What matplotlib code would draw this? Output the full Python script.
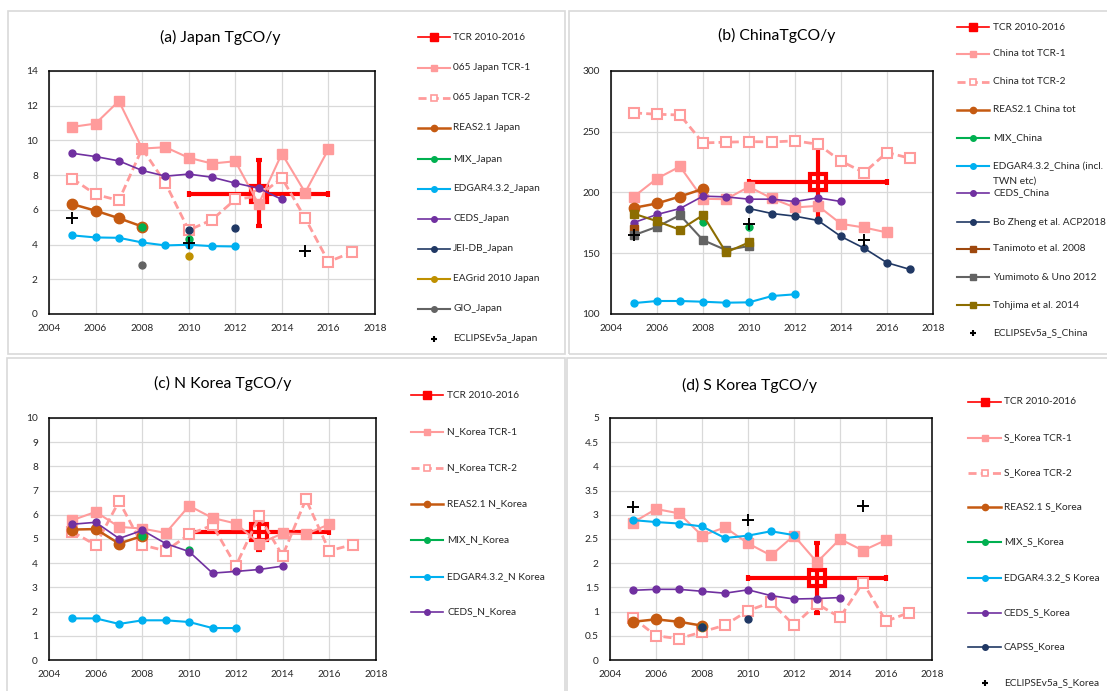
import matplotlib
matplotlib.use('Agg')
import matplotlib.pyplot as plt
from matplotlib.lines import Line2D
from matplotlib.patches import Rectangle
from matplotlib.ticker import FuncFormatter

plt.rcParams['font.family'] = ['Lato', 'DejaVu Sans']

nan = float('nan')

# ---- years ----
yrs_05_16 = [2005, 2006, 2007, 2008, 2009, 2010, 2011, 2012, 2013, 2014, 2015, 2016]
yrs_05_17 = [2005, 2006, 2007, 2008, 2009, 2010, 2011, 2012, 2013, 2014, 2015, 2016, 2017]
yrs_05_08 = [2005, 2006, 2007, 2008]
yrs_05_10 = [2005, 2006, 2007, 2008, 2009, 2010]
yrs_05_12 = [2005, 2006, 2007, 2008, 2009, 2010, 2011, 2012]
yrs_05_14 = [2005, 2006, 2007, 2008, 2009, 2010, 2011, 2012, 2013, 2014]
yrs_10_17 = [2010, 2011, 2012, 2013, 2014, 2015, 2016, 2017]
yrs_08_10 = [2008, 2009, 2010]
yrs_10_12 = [2010, 2011, 2012]
yrs_eclipse = [2005, 2010, 2015]

# ---- (a) Japan ----
jp_tcr = [6.94]
jp_tcr_err = [[1.88], [1.96]]
jp_tcr1 = [10.78, 10.97, 12.27, 9.53, 9.61, 9.0, 8.67, 8.80, 6.33, 9.24, 7.0, 9.49]
jp_tcr2 = [7.80, 6.89, 6.54, 9.53, 7.54, 4.83, 5.43, 6.60, 6.79, 7.84, 5.52, 3.01, 3.55]
jp_reas = [6.33, 5.95, 5.52, 5.04]
jp_mix = [5.04, nan, 4.30]
jp_edgar = [4.53, 4.41, 4.39, 4.12, 3.95, 3.99, 3.91, 3.89]
jp_ceds = [9.26, 9.07, 8.82, 8.27, 7.94, 8.06, 7.88, 7.54, 7.25, 6.60]
jp_jei = [4.83, nan, 4.93]
jp_eagrid = [3.36]
jp_gio = [2.80]
jp_eclipse = [5.54, 4.07, 3.64]

# ---- (b) China ----
cn_tcr = [208.8]
cn_tcr_err = [[31.5], [28.7]]
cn_tcr1 = [196.7, 211.5, 221.4, 194.8, 194.5, 204.7, 195.1, 187.7, 189.0, 174.2, 171.2, 167.1]
cn_tcr2 = [265.5, 264.4, 263.8, 240.8, 241.4, 241.9, 241.6, 242.5, 239.7, 225.8, 216.4, 232.9, 228.2]
cn_reas = [187.4, 191.0, 196.7, 203.0]
cn_mix = [175.9, nan, 171.2]
cn_edgar = [109.0, 110.7, 110.7, 110.1, 109.3, 109.6, 114.8, 116.2]
cn_ceds = [175.3, 181.9, 186.8, 197.0, 196.4, 194.5, 194.5, 192.6, 195.6, 192.6]
cn_zheng = [186.8, 182.7, 180.5, 177.0, 163.8, 154.2, 142.2, 136.7]
cn_tanimoto = [170.1]
cn_yumimoto = [164.9, 171.8, 181.4, 160.8, 152.6, 155.9]
cn_tohjima = [182.5, 176.4, 169.3, 181.4, 150.7, 158.9]
cn_eclipse = [164.9, 173.7, 160.8]

# ---- (c) N Korea ----
nk_tcr = [5.30]
nk_tcr_err = [[0.76], [0.75]]
nk_tcr1 = [5.78, 6.12, 5.50, 5.43, 5.25, 6.37, 5.87, 5.64, 4.81, 5.23, 5.20, 5.61]
nk_tcr2 = [5.30, 4.75, 6.56, 4.75, 4.51, 5.19, 5.57, 3.89, 5.94, 4.31, 6.64, 4.51, 4.77]
nk_reas = [5.39, 5.41, 4.81, 5.13]
nk_mix = [5.13, nan, 4.53]
nk_edgar = [1.72, 1.72, 1.49, 1.64, 1.64, 1.57, 1.32, 1.32]
nk_ceds = [5.61, 5.69, 5.02, 5.36, 4.81, 4.48, 3.59, 3.66, 3.74, 3.88]

# ---- (d) S Korea ----
sk_tcr = [1.69]
sk_tcr_err = [[0.71], [0.72]]
sk_tcr1 = [2.84, 3.12, 3.03, 2.57, 2.74, 2.41, 2.16, 2.57, 2.02, 2.50, 2.26, 2.48]
sk_tcr2 = [0.87, 0.50, 0.44, 0.58, 0.72, 1.02, 1.19, 0.72, 1.16, 0.88, 1.60, 0.80, 0.98]
sk_reas = [0.79, 0.84, 0.79, 0.71]
sk_mix = [0.69]
sk_edgar = [2.89, 2.85, 2.82, 2.76, 2.52, 2.57, 2.66, 2.58]
sk_ceds = [1.44, 1.46, 1.46, 1.42, 1.38, 1.45, 1.33, 1.26, 1.27, 1.29]
sk_capss = [0.69, nan, 0.84]
sk_eclipse = [3.16, 2.89, 3.18]

# ---- styles ----
RED = '#FF0000'
PINK = '#FF9B9B'
NAVY = '#203864'
styles = {
    'tcr1': dict(color=PINK, lw=1.5, marker='s', ms=6.5, zorder=5),
    'tcr2': dict(color=PINK, lw=2, ls=(0, (2.9, 1.5)), marker='s', ms=7.5,
                 mfc='white', mec=PINK, mew=1.5, zorder=4),
    'reas': dict(color='#C55A11', lw=1.8, marker='o', ms=7.5, zorder=6),
    'mix': dict(color='#00B050', lw=1.5, marker='o', ms=5, zorder=6),
    'edgar': dict(color='#00B0F0', lw=1.5, marker='o', ms=5, zorder=6),
    'ceds': dict(color='#7030A0', lw=1.2, marker='o', ms=5, zorder=6),
    'navy': dict(color=NAVY, lw=1.2, marker='o', ms=5, zorder=6),
    'eagrid': dict(color='#BF9000', lw=1.5, marker='o', ms=5, zorder=6),
    'gio': dict(color='#636363', lw=1.5, marker='o', ms=5, zorder=6),
    'tanimoto': dict(color='#9E480E', lw=1.5, marker='s', ms=5.5, zorder=6),
    'yumimoto': dict(color='#636363', lw=1.5, marker='s', ms=5.5, zorder=6),
    'tohjima': dict(color='#8C6D00', lw=1.5, marker='s', ms=5.5, zorder=6),
    'eclipse': dict(color='black', ls='none', marker='+', ms=9, mew=1.4, zorder=7),
}
legend_ms = {'tcr1': 4.5, 'tcr2': 5, 'reas': 4.5}

W, H = 1107, 691
fig = plt.figure(figsize=(W / 100, H / 100), dpi=100)


def fx(x):
    return x / W


def fy(y):
    return 1 - y / H


# panel frames
for x0, y0, x1, y1 in [(8, 11, 565, 354), (569, 11, 1112, 354),
                       (7, 358, 565, 696), (567, 358, 1112, 696)]:
    fig.add_artist(Rectangle((fx(x0), fy(y1)), fx(x1 - x0), (y1 - y0) / H,
                             transform=fig.transFigure, fill=False,
                             ec='#D9D9D9', lw=1.2))


def legend_entry(x0, x1, tx, y, label, key):
    if key == 'tcr':
        st = dict(color=RED, lw=1.2, marker='s', ms=5.5, mfc=RED, mec=RED)
    else:
        st = dict(styles[key])
        st.pop('zorder', None)
        st['ms'] = legend_ms.get(key, 4)
        if key == 'tcr2':
            st['mew'] = 1.2
    xm = (x0 + x1) / 2
    if key == 'eclipse':
        fig.add_artist(Line2D([fx(xm)], [fy(y)], transform=fig.transFigure,
                              color='black', ls='none', marker='+', ms=5, mew=1.5))
    else:
        fig.add_artist(Line2D([fx(x0), fx(xm), fx(x1)], [fy(y)] * 3,
                              transform=fig.transFigure, markevery=[1], **st))
    for i, line in enumerate(label.split('\n')):
        fig.text(fx(tx), fy(y + i * 15), line, va='center', ha='left',
                 fontsize=7.3, color='#262626')


def panel(box, title, title_x, title_y, ylim, ystep, tcr, tcr_err, series,
          leg_x, leg_ys):
    l, t, r, b = box
    ax = fig.add_axes([fx(l), fy(b), fx(r - l), (b - t) / H])
    ax.errorbar([2013], tcr, xerr=[[3], [3]], yerr=tcr_err, fmt='s', ms=12,
                mfc='none', mec=RED, mew=3, ecolor=RED, elinewidth=3,
                capsize=2.5, capthick=3, zorder=3)
    for label, xs, ys, key in series:
        ax.plot(xs, ys, **styles[key])
    ax.set_xlim(2004, 2018)
    ax.set_ylim(*ylim)
    ax.set_xticks([2004, 2006, 2008, 2010, 2012, 2014, 2016, 2018])
    yt = []
    v = ylim[0]
    while v <= ylim[1] + 1e-9:
        yt.append(v)
        v += ystep
    ax.set_yticks(yt)
    ax.yaxis.set_major_formatter(FuncFormatter(lambda val, _: f'{val:g}'))
    ax.grid(True, color='#D9D9D9', lw=0.9)
    ax.set_axisbelow(True)
    ax.tick_params(length=0, labelsize=7.3, labelcolor='#262626')
    ax.tick_params(axis='y', pad=8)
    ax.tick_params(axis='x', pad=7)
    for sp in ax.spines.values():
        sp.set_color('black')
        sp.set_linewidth(1.1)
    fig.text(fx(title_x), fy(title_y), title, ha='center', va='center',
             fontsize=11.3, color='black')
    x0, x1, tx = leg_x
    entries = [('TCR 2010-2016', 'tcr')] + [(s[0], s[3]) for s in series]
    for (label, key), y in zip(entries, leg_ys):
        legend_entry(x0, x1, tx, y, label, key)
    return ax


panel((49, 71, 375, 314), '(a) Japan TgCO/y', 220, 37, (0, 14), 2, jp_tcr, jp_tcr_err,
      [('065 Japan TCR-1', yrs_05_16, jp_tcr1, 'tcr1'),
       ('065 Japan TCR-2', yrs_05_17, jp_tcr2, 'tcr2'),
       ('REAS2.1 Japan', yrs_05_08, jp_reas, 'reas'),
       ('MIX_Japan', yrs_08_10, jp_mix, 'mix'),
       ('EDGAR4.3.2_Japan', yrs_05_12, jp_edgar, 'edgar'),
       ('CEDS_Japan', yrs_05_14, jp_ceds, 'ceds'),
       ('JEI-DB_Japan', yrs_10_12, jp_jei, 'navy'),
       ('EAGrid 2010 Japan', [2010], jp_eagrid, 'eagrid'),
       ('GIO_Japan', [2008], jp_gio, 'gio'),
       ('ECLIPSEv5a_Japan', yrs_eclipse, jp_eclipse, 'eclipse')],
      (418, 450, 453), [37, 68, 98, 128, 159, 189, 219, 249, 279, 309, 339])

panel((611, 71, 933, 314), '(b) ChinaTgCO/y', 777, 35, (100, 300), 50, cn_tcr, cn_tcr_err,
      [('China tot TCR-1', yrs_05_16, cn_tcr1, 'tcr1'),
       ('China tot TCR-2', yrs_05_17, cn_tcr2, 'tcr2'),
       ('REAS2.1 China tot', yrs_05_08, cn_reas, 'reas'),
       ('MIX_China', yrs_08_10, cn_mix, 'mix'),
       ('EDGAR4.3.2_China (incl.\nTWN etc)', yrs_05_12, cn_edgar, 'edgar'),
       ('CEDS_China', yrs_05_14, cn_ceds, 'ceds'),
       ('Bo Zheng et al. ACP2018', yrs_10_17, cn_zheng, 'navy'),
       ('Tanimoto et al. 2008', [2005], cn_tanimoto, 'tanimoto'),
       ('Yumimoto & Uno 2012', yrs_05_10, cn_yumimoto, 'yumimoto'),
       ('Tohjima et al. 2014', yrs_05_10, cn_tohjima, 'tohjima'),
       ('ECLIPSEv5a_S_China', yrs_eclipse, cn_eclipse, 'eclipse')],
      (957, 989, 993), [27, 54, 82, 110, 138, 166, 193, 222, 249, 277, 305, 333])

panel((49, 418, 376, 660), '(c) N Korea TgCO/y', 223, 383, (0, 10), 1, nk_tcr, nk_tcr_err,
      [('N_Korea TCR-1', yrs_05_16, nk_tcr1, 'tcr1'),
       ('N_Korea TCR-2', yrs_05_17, nk_tcr2, 'tcr2'),
       ('REAS2.1 N_Korea', yrs_05_08, nk_reas, 'reas'),
       ('MIX_N_Korea', yrs_08_10, nk_mix, 'mix'),
       ('EDGAR4.3.2_N Korea', yrs_05_12, nk_edgar, 'edgar'),
       ('CEDS_N_Korea', yrs_05_14, nk_ceds, 'ceds')],
      (411, 443, 447), [395, 432, 468, 504, 540, 577, 612])

panel((610, 418, 932, 660), '(d) S Korea TgCO/y', 750, 385, (0, 5), 0.5, sk_tcr, sk_tcr_err,
      [('S_Korea TCR-1', yrs_05_16, sk_tcr1, 'tcr1'),
       ('S_Korea TCR-2', yrs_05_17, sk_tcr2, 'tcr2'),
       ('REAS2.1 S_Korea', yrs_05_08, sk_reas, 'reas'),
       ('MIX_S_Korea', [2008], sk_mix, 'mix'),
       ('EDGAR4.3.2_S Korea', yrs_05_12, sk_edgar, 'edgar'),
       ('CEDS_S_Korea', yrs_05_14, sk_ceds, 'ceds'),
       ('CAPSS_Korea', yrs_08_10, sk_capss, 'navy'),
       ('ECLIPSEv5a_S_Korea', yrs_eclipse, sk_eclipse, 'eclipse')],
      (968, 1001, 1004), [402, 438, 473, 507, 542, 578, 613, 647, 683])

fig.savefig('out.png', dpi=100)
